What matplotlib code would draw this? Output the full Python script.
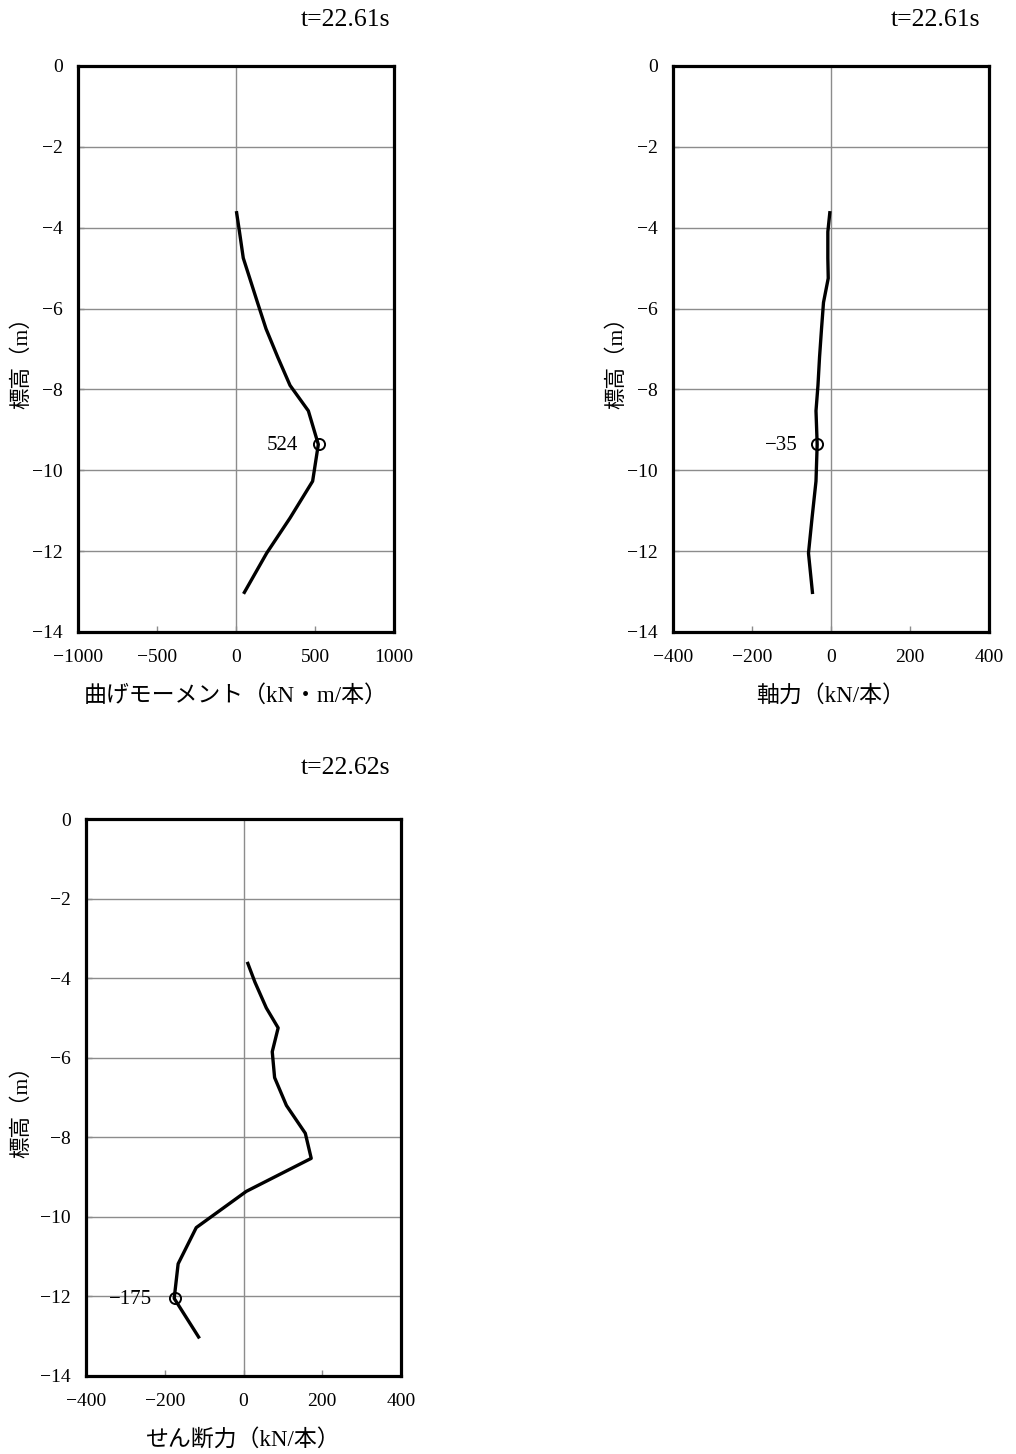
import matplotlib
matplotlib.use('Agg')
import matplotlib.pyplot as plt

plt.rcParams['font.family'] = ['Liberation Serif', 'Noto Sans CJK JP']
plt.rcParams['axes.unicode_minus'] = True

# elevation of the nodes (m)
elev = [-3.63, -4.1, -4.75, -5.25, -5.85, -6.5, -7.2, -7.9, -8.53, -9.36,
        -10.27, -11.18, -12.05, -13.02]

moment = [4, 22, 46, 87, 136, 190, 264, 342, 458, 521, 485, 342, 194, 53]
axial = [-3, -8, -8, -7, -19, -24, -29, -33, -38, -35, -38, -48, -57, -47]
shear = [11, 29, 58, 88, 73, 79, 109, 157, 172, 7, -120, -166, -176, -114]

# peak values shown on each chart (value, elevation)
moment_peak = (524, -9.36)
axial_peak = (-35, -9.36)
shear_peak = (-175, -12.05)

titles = ['t=22.61s', 't=22.61s', 't=22.62s']
xlabels = ['曲げモーメント（kN・m/本）', '軸力（kN/本）', 'せん断力（kN/本）']
xlims = [(-1000, 1000), (-400, 400), (-400, 400)]
xticks = [[-1000, -500, 0, 500, 1000], [-400, -200, 0, 200, 400],
          [-400, -200, 0, 200, 400]]

W, H = 1016, 1454
fig = plt.figure(figsize=(W / 100, H / 100), dpi=100)

# axes boxes in pixels: left, top, right, bottom
boxes = [(78, 66, 394, 632), (673, 66, 989, 632), (86, 819, 401, 1376)]
series = [moment, axial, shear]
peaks = [moment_peak, axial_peak, shear_peak]
title_off = [(-3, 33), (-6, 33), (-8, 37)]
note_off = [-15, -14, -16]
ylabel_x = [-0.146, -0.146, -0.171]

for i in range(3):
    l, t, r, b = boxes[i]
    ax = fig.add_axes([l / W, 1 - b / H, (r - l) / W, (b - t) / H])
    ax.set_xlim(*xlims[i])
    ax.set_ylim(-14, 0)
    ax.set_xticks(xticks[i])
    ax.set_yticks(range(-14, 1, 2))
    for y in range(-12, 0, 2):
        ax.axhline(y, color='#8c8c8c', lw=1.0, zorder=1)
    ax.axvline(0, color='#8c8c8c', lw=1.0, zorder=1)
    for s in ax.spines.values():
        s.set_linewidth(2.3)
        s.set_color('black')
    ax.tick_params(direction='in', length=4, width=1, labelsize=14,
                   color='#8c8c8c')
    ax.tick_params(axis='y', pad=11)
    ax.tick_params(axis='x', pad=12)

    ax.plot(series[i], elev, color='black', lw=2.4, zorder=3)
    px, py = peaks[i]
    ax.plot(px, py, 'o', mfc='none', mec='black', ms=8, mew=1.4, zorder=4)
    ax.annotate(str(px).replace('-', '\u2212'), (px, py),
                xytext=(note_off[i], -1), textcoords='offset points',
                ha='right', va='center', fontsize=15)

    ax.set_xlabel(xlabels[i], fontsize=16.5, labelpad=14)
    ax.set_ylabel('標高（m）', fontsize=15.5)
    ax.yaxis.set_label_coords(ylabel_x[i], 0.484)
    ax.annotate(titles[i], (1, 1), xycoords='axes fraction',
                xytext=title_off[i], textcoords='offset points',
                ha='right', va='center', fontsize=18.5)

fig.savefig('out.png', dpi=100)
